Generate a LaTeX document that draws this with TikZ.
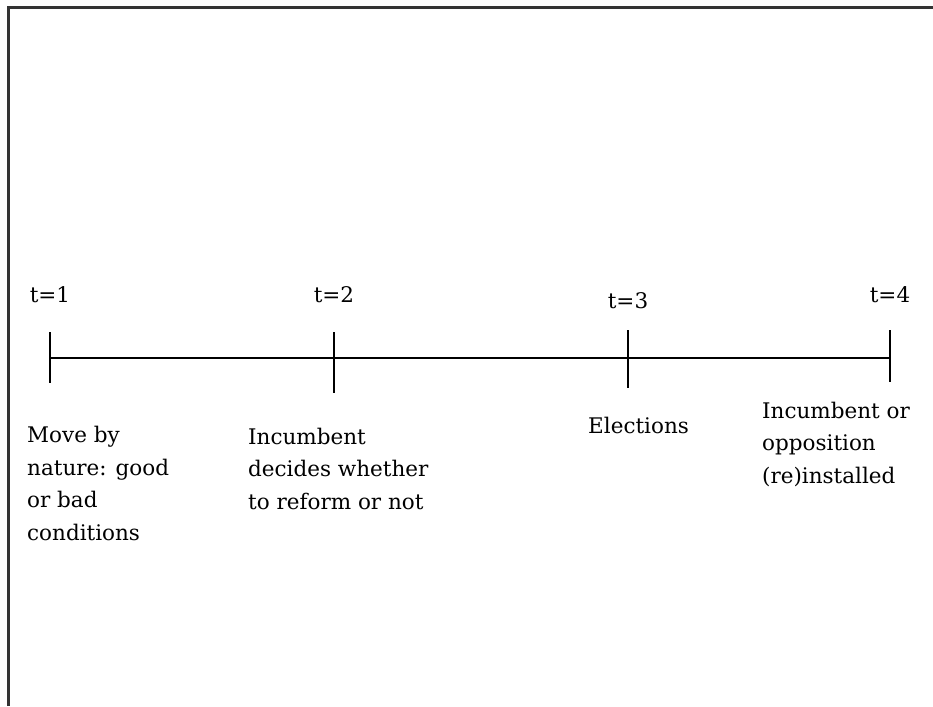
\documentclass[tikz,border=0pt]{standalone}
\usepackage{fontspec}
\setmainfont{DejaVu Serif}
\usetikzlibrary{positioning}

\newcommand{\eventfont}{\fontsize{21.5}{32.5}\selectfont}

\begin{document}
\begin{tikzpicture}[x=1pt, y=-1pt,
  frame/.style={line width=2.2pt, draw=black!80},
  tick/.style={line width=1.6pt},
  stamp/.style={anchor=base, inner sep=0pt, font=\eventfont},
  event/.style={anchor=base west, align=left, inner sep=0pt, font=\eventfont}
]
  \useasboundingbox (0,0) rectangle (933,706);
  % outer frame (only top and left edges visible)
  \coordinate (fbot) at (8.5,706);
  \coordinate (fcorner) at (8.5,7.5);
  \coordinate (fright) at (933,7.5);
  \draw[frame] (fbot) -- (fcorner) -- (fright);

  % time axis
  \coordinate (start) at (50,358);
  \coordinate (end) at (890,358);
  \draw[tick] (start) -- (end);
  \foreach \i/\x/\top/\bot/\lab in {1/50/332/383/302, 2/334/332/393/302, 3/628/330/388/308, 4/890/330/382/302} {
    \coordinate (up\i) at (\x,\top);
    \coordinate (dn\i) at (\x,\bot);
    \draw[tick] (up\i) -- (dn\i);
    \node[stamp] (t\i) at (\x,\lab) {t=\i};
  }

  % events (base = last line)
  \node[event] (nature) at (27,540) {Move by\\nature: good\\or bad\\conditions};
  \node[event] (reform) at (248,509) {Incumbent\\decides whether\\to reform or not};
  \node[event] (vote) at (588,433) {Elections};
  \node[event] (install) at (762,483) {Incumbent or\\opposition\\(re)installed};
\end{tikzpicture}
\end{document}
